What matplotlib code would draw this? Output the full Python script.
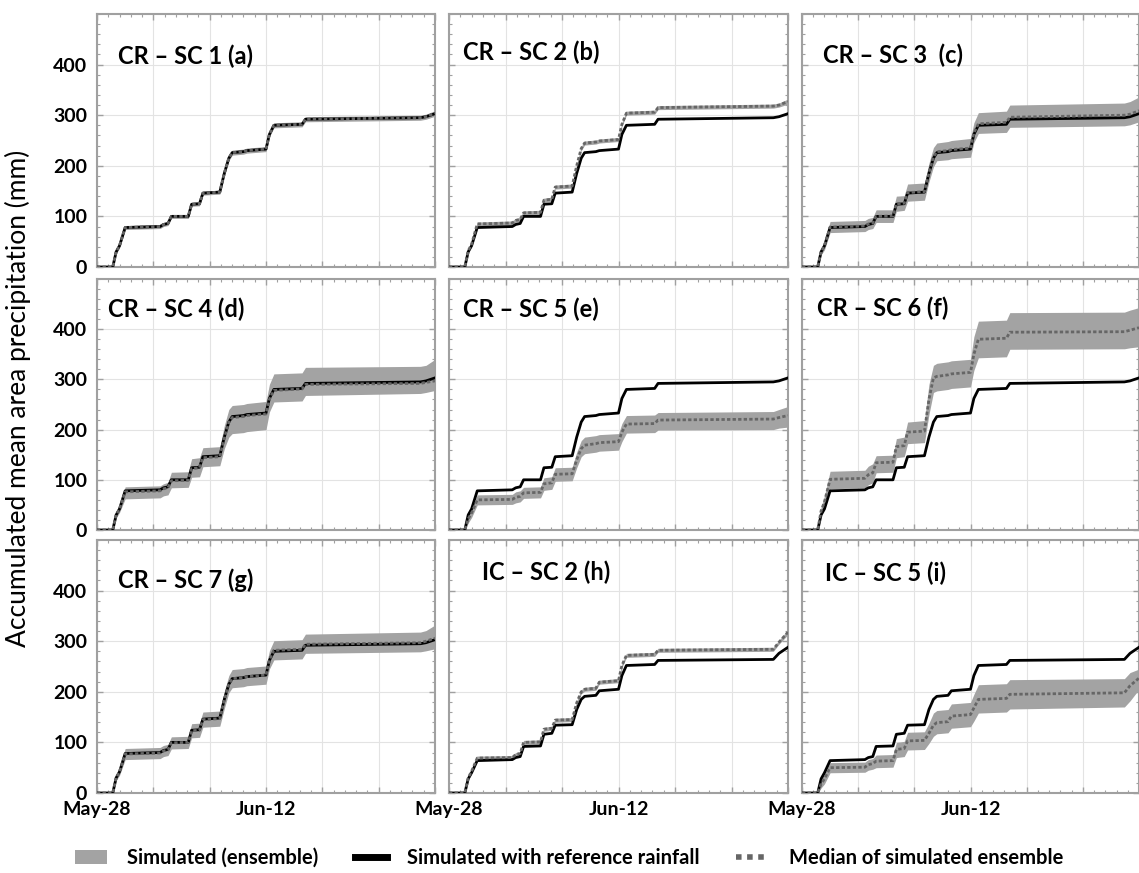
import matplotlib
matplotlib.use("Agg")
import matplotlib.pyplot as plt
from matplotlib.ticker import MultipleLocator, FixedLocator
from matplotlib.patches import Patch
from matplotlib.lines import Line2D

plt.rcParams['font.family'] = ['Lato', 'DejaVu Sans']

# breakpoints (days after May-28) shared by every curve
days = [0, 1.4, 1.7, 2.0, 2.5, 5.6, 5.9, 6.3, 6.6, 8.1, 8.4, 9.1, 9.4, 10.9,
        11.3, 11.7, 12.0, 13.0, 13.3, 15.0, 15.3, 15.7, 18.2, 18.5, 28.7, 29.2, 30.0]

# simulated with reference rainfall
ref_cr = [0, 0, 30, 42, 78, 80, 84, 86, 100, 100, 124, 125, 146, 148, 185, 215, 226,
          228, 230, 233, 262, 280, 282, 292, 295, 297, 303]
ref_ic = [0, 0, 28, 40, 64, 66, 70, 72, 92, 93, 116, 118, 134, 135, 165, 185, 191,
          193, 202, 205, 232, 252, 254, 262, 264, 276, 288]

# ensemble median / lower / upper per panel
med_a = [0, 0, 30, 42, 78, 80, 84, 86, 100, 100, 124, 125, 146, 148, 185, 215, 226, 228, 230, 233, 262, 280, 282, 292, 295, 297, 304]
lo_a = [0, 0, 26, 38, 74, 76, 80, 82, 96, 96, 120, 121, 142, 144, 181, 210, 221, 223, 225, 228, 257, 275, 277, 287, 290, 292, 298]
hi_a = [0, 0, 33, 46, 82, 84, 88, 90, 104, 104, 128, 129, 150, 152, 189, 219, 231, 233, 235, 238, 267, 285, 287, 297, 300, 302, 309]

med_b = [0, 0, 32, 45, 85, 87, 92, 94, 107, 108, 132, 134, 158, 160, 200, 234, 245, 247, 249, 252, 282, 304, 306, 315, 318, 320, 327]
lo_b = [0, 0, 28, 41, 81, 83, 88, 90, 103, 104, 128, 130, 154, 156, 196, 230, 241, 243, 245, 248, 278, 300, 302, 311, 314, 316, 322]
hi_b = [0, 0, 36, 49, 89, 91, 96, 98, 111, 112, 136, 138, 162, 164, 204, 238, 249, 251, 253, 256, 286, 308, 310, 319, 322, 324, 332]

med_c = [0, 0, 30, 42, 79, 81, 85, 87, 100, 101, 125, 126, 147, 149, 186, 217, 228, 230, 232, 235, 265, 283, 286, 296, 300, 302, 309]
lo_c = [0, 0, 24, 34, 68, 70, 74, 76, 88, 88, 110, 112, 130, 132, 168, 198, 210, 212, 214, 217, 246, 264, 266, 276, 279, 281, 287]
hi_c = [0, 0, 36, 50, 90, 92, 96, 98, 113, 113, 140, 141, 164, 166, 205, 236, 245, 248, 250, 254, 285, 305, 308, 320, 324, 327, 336]

med_d = [0, 0, 30, 42, 76, 78, 82, 84, 98, 99, 122, 124, 144, 146, 183, 214, 224, 226, 228, 231, 260, 278, 281, 290, 292, 294, 297]
lo_d = [0, 0, 24, 35, 62, 64, 68, 70, 84, 85, 105, 106, 126, 128, 162, 185, 192, 194, 196, 200, 235, 255, 257, 268, 272, 274, 278]
hi_d = [0, 0, 36, 50, 86, 88, 92, 95, 115, 116, 142, 144, 164, 166, 208, 240, 248, 250, 252, 256, 290, 311, 313, 324, 326, 328, 340]

med_e = [0, 0, 22, 34, 60, 61, 65, 67, 74, 75, 92, 94, 111, 112, 140, 162, 169, 172, 174, 176, 195, 211, 212, 219, 221, 224, 228]
lo_e = [0, 0, 14, 25, 50, 51, 54, 56, 63, 64, 79, 81, 97, 98, 124, 146, 152, 155, 157, 159, 176, 193, 194, 199, 200, 203, 205]
hi_e = [0, 0, 30, 43, 70, 71, 76, 78, 85, 86, 104, 106, 124, 125, 155, 178, 185, 188, 190, 192, 212, 228, 229, 234, 236, 240, 246]

med_f = [0, 0, 38, 56, 101, 103, 110, 114, 134, 135, 166, 168, 195, 197, 260, 303, 306, 309, 311, 314, 350, 380, 382, 394, 395, 398, 403]
lo_f = [0, 0, 30, 44, 82, 84, 90, 94, 114, 115, 144, 146, 172, 174, 230, 274, 277, 280, 282, 285, 318, 343, 345, 360, 361, 363, 365]
hi_f = [0, 0, 46, 68, 117, 119, 127, 132, 148, 149, 182, 185, 215, 218, 290, 328, 332, 335, 337, 340, 385, 416, 418, 433, 434, 438, 443]

med_g = [0, 0, 30, 42, 77, 79, 83, 85, 99, 100, 123, 124, 145, 147, 184, 215, 226, 228, 230, 233, 263, 282, 284, 294, 297, 300, 306]
lo_g = [0, 0, 25, 35, 66, 68, 72, 74, 87, 88, 109, 110, 130, 132, 167, 198, 208, 210, 212, 215, 245, 263, 265, 276, 279, 281, 285]
hi_g = [0, 0, 35, 49, 88, 90, 94, 96, 111, 112, 137, 138, 160, 162, 201, 232, 244, 246, 248, 251, 281, 301, 303, 314, 318, 321, 332]

med_h = [0, 0, 30, 43, 69, 70, 76, 78, 100, 101, 126, 128, 144, 145, 178, 200, 205, 207, 219, 222, 252, 272, 274, 282, 284, 298, 318]
lo_h = [0, 0, 26, 39, 65, 66, 72, 74, 96, 97, 122, 124, 140, 141, 174, 196, 201, 203, 215, 218, 248, 268, 270, 278, 280, 294, 313]
hi_h = [0, 0, 34, 47, 73, 74, 80, 82, 104, 105, 130, 132, 148, 149, 182, 204, 209, 211, 223, 226, 256, 276, 278, 286, 288, 302, 323]

med_i = [0, 0, 18, 28, 50, 51, 56, 58, 63, 64, 86, 88, 103, 104, 118, 134, 139, 141, 152, 155, 168, 185, 187, 195, 198, 212, 227]
lo_i = [0, 0, 10, 18, 40, 41, 45, 47, 50, 51, 70, 72, 85, 86, 98, 112, 117, 119, 128, 131, 142, 158, 160, 166, 170, 182, 205]
hi_i = [0, 0, 26, 38, 60, 61, 66, 68, 75, 76, 100, 102, 120, 121, 138, 158, 163, 165, 176, 179, 195, 214, 216, 224, 226, 238, 245]

titles = ['CR – SC 1 (a)', 'CR – SC 2 (b)', 'CR – SC 3  (c)',
          'CR – SC 4 (d)', 'CR – SC 5 (e)', 'CR – SC 6 (f)',
          'CR – SC 7 (g)', 'IC – SC 2 (h)', 'IC – SC 5 (i)']
refs = [ref_cr] * 7 + [ref_ic, ref_ic]
meds = [med_a, med_b, med_c, med_d, med_e, med_f, med_g, med_h, med_i]
los = [lo_a, lo_b, lo_c, lo_d, lo_e, lo_f, lo_g, lo_h, lo_i]
his = [hi_a, hi_b, hi_c, hi_d, hi_e, hi_f, hi_g, hi_h, hi_i]

band_col = '#a3a3a3'
med_col = '#666666'
spine_col = '#a0a0a0'

W, H = 1139, 873
fig = plt.figure(figsize=(W / 100, H / 100), dpi=100)

lefts = [97, 449, 802]
widths = [338, 339, 337]
tops = [14, 279, 540]
bottoms = [267, 530, 793]
# title text box offsets inside each panel (px from left edge, px from top)
title_dx = [21, 14, 21, 11, 14, 15, 21, 33, 23]
title_dy = [42, 38, 41, 30, 30, 29, 40, 32, 33]

for k in range(9):
    r, c = divmod(k, 3)
    ax = fig.add_axes([lefts[c] / W, 1 - bottoms[r] / H, widths[c] / W,
                       (bottoms[r] - tops[r]) / H])
    ax.fill_between(days, los[k], his[k], color=band_col, lw=0, zorder=2)
    ax.plot(days, refs[k], color='black', lw=2.0, zorder=3)
    ax.plot(days, meds[k], color=med_col, lw=2.0, ls=(0, (1.2, 0.8)), zorder=4)

    ax.set_xlim(0, 30)
    ax.set_ylim(0, 500)
    ax.xaxis.set_major_locator(MultipleLocator(5))
    ax.xaxis.set_minor_locator(MultipleLocator(1))
    ax.yaxis.set_major_locator(FixedLocator([0, 100, 200, 300, 400]))
    ax.yaxis.set_minor_locator(MultipleLocator(20))
    ax.grid(True, which='major', color='#e3e3e3', lw=0.8, zorder=0)
    ax.tick_params(which='both', direction='in', top=True, right=True,
                   color=spine_col)
    ax.tick_params(which='major', length=4, width=1)
    ax.tick_params(which='minor', length=2.5, width=0.8)
    ax.tick_params(axis='y', labelsize=14, pad=7)
    ax.tick_params(axis='x', labelsize=14, pad=6)
    for s in ax.spines.values():
        s.set_color(spine_col)
        s.set_linewidth(1.5)

    if c == 0:
        for lab in ax.get_yticklabels():
            lab.set_fontweight('bold')
    else:
        ax.set_yticklabels([])
    if r == 2:
        ax.set_xticks([0, 5, 10, 15, 20, 25, 30])
        ax.set_xticklabels(['May-28', '', '', 'Jun-12', '', '', ''],
                           fontweight='bold')
    else:
        ax.set_xticklabels([])

    ph = bottoms[r] - tops[r]
    ax.text(title_dx[k] / widths[c], 1 - title_dy[k] / ph, titles[k],
            transform=ax.transAxes, fontsize=17, fontweight='bold',
            va='center', ha='left', zorder=5)

fig.text(18 / W, 1 - 398 / H, 'Accumulated mean area precipitation (mm)',
         rotation=90, ha='center', va='center', fontsize=19)

handles = [Patch(facecolor=band_col, edgecolor='none'),
           Line2D([0], [0], color='black', lw=5),
           Line2D([0], [0], color=med_col, lw=4, ls=(0, (1, 1)))]
labels = ['Simulated (ensemble)', 'Simulated with reference rainfall',
          'Median of simulated ensemble']
leg = fig.legend(handles, labels, loc='center', ncol=3,
                 bbox_to_anchor=(569 / W, 1 - 858 / H), frameon=False,
                 prop={'weight': 'bold', 'size': 14.5}, handlelength=1.6,
                 handletextpad=1.0, columnspacing=1.8)

fig.savefig('out.png', dpi=100)
